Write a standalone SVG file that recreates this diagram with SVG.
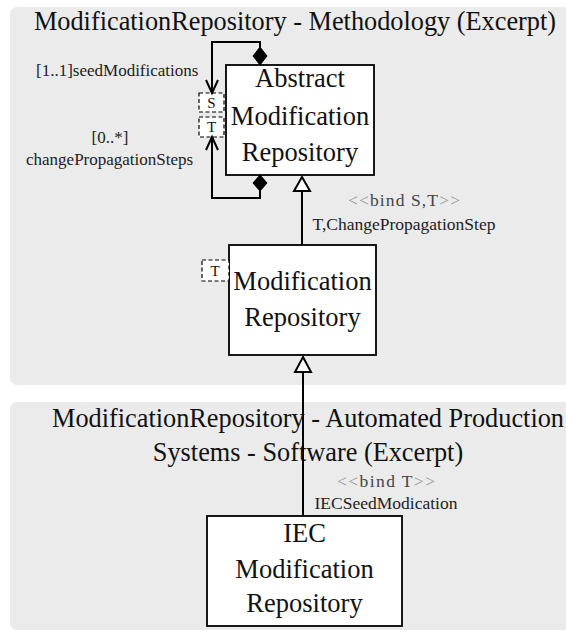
<svg xmlns="http://www.w3.org/2000/svg" width="566" height="632" viewBox="0 0 566 632">
<style>
text{font-family:'Liberation Serif','DejaVu Serif',serif}
.panel{fill:#ebebeb;stroke:none}
.title{font-size:26.3px;fill:#111;text-anchor:middle}
.box{fill:#fff;stroke:#000;stroke-width:1.8}
.name{font-size:26.5px;fill:#111;text-anchor:middle}
.param{fill:#fff;stroke:#000;stroke-width:1.2;stroke-dasharray:4,2.5}
.ptext{font-size:15px;fill:#111;text-anchor:middle}
.lbl{font-size:17px;fill:#222}
.bind{font-size:17.5px;fill:#444;text-anchor:middle}
.ang{fill:#999}
.conn{fill:none;stroke:#000;stroke-width:2}
.dia{fill:#000;stroke:#000;stroke-width:1}
.tri{fill:#fff;stroke:#000;stroke-width:2}
</style>
<g id="panel-methodology">
<rect class="panel" x="10" y="7" width="570" height="378" rx="7"/>
<text class="title" x="295" y="30">ModificationRepository - Methodology (Excerpt)</text>
</g>
<g id="panel-aps">
<rect class="panel" x="10" y="402" width="570" height="228" rx="7"/>
<text class="title" x="308" y="427">ModificationRepository - Automated Production</text>
<text class="title" x="308" y="461">Systems - Software (Excerpt)</text>
</g>
<g id="node-abstract">
<rect class="box" x="226" y="65" width="148" height="110"/>
<text class="name" x="300" y="87">Abstract</text>
<text class="name" x="300" y="125">Modification</text>
<text class="name" x="300" y="161">Repository</text>
<rect class="param" x="199" y="93" width="25" height="19"/>
<text class="ptext" x="211.5" y="108">S</text>
<rect class="param" x="199" y="117" width="25" height="20"/>
<text class="ptext" x="211.5" y="132">T</text>
</g>
<g id="node-modrepo">
<rect class="box" x="229" y="245" width="147" height="110"/>
<text class="name" x="302.5" y="290">Modification</text>
<text class="name" x="302.5" y="326">Repository</text>
<rect class="param" x="202" y="260" width="27" height="21"/>
<text class="ptext" x="215" y="276">T</text>
</g>
<g id="node-iec">
<rect class="box" x="207" y="516" width="195" height="110"/>
<text class="name" x="304.5" y="542">IEC</text>
<text class="name" x="304.5" y="578">Modification</text>
<text class="name" x="304.5" y="612">Repository</text>
</g>
<g id="connectors">
<path class="conn" d="M260,47 V42 H212 V93"/>
<path class="conn" d="M206,80 L212,93 L218,80"/>
<polygon class="dia" points="260,47 267,56 260,65 253,56"/>
<path class="conn" d="M260,191 V198 H212 V137"/>
<path class="conn" d="M206,150 L212,137 L218,150"/>
<polygon class="dia" points="260,175 267,183 260,191 253,183"/>
<path class="conn" d="M302,191 V245"/>
<polygon class="tri" points="302,177 310,191 294,191"/>
<path class="conn" d="M303,372 V516"/>
<polygon class="tri" points="303,357 311,372 295,372"/>
</g>
<g id="labels">
<text class="lbl" x="36" y="76">[1..1]seedModifications</text>
<text class="lbl" x="110" y="143" text-anchor="middle">[0..*]</text>
<text class="lbl" x="26" y="165">changePropagationSteps</text>
<text class="bind" x="404" y="206" textLength="112"><tspan class="ang">&lt;&lt;</tspan>bind S,T<tspan class="ang">&gt;&gt;</tspan></text>
<text class="bind" x="404" y="230" style="fill:#222">T,ChangePropagationStep</text>
<text class="bind" x="386" y="487" textLength="98"><tspan class="ang">&lt;&lt;</tspan>bind T<tspan class="ang">&gt;&gt;</tspan></text>
<text class="bind" x="386" y="509" style="fill:#222">IECSeedModication</text>
</g>
</svg>
